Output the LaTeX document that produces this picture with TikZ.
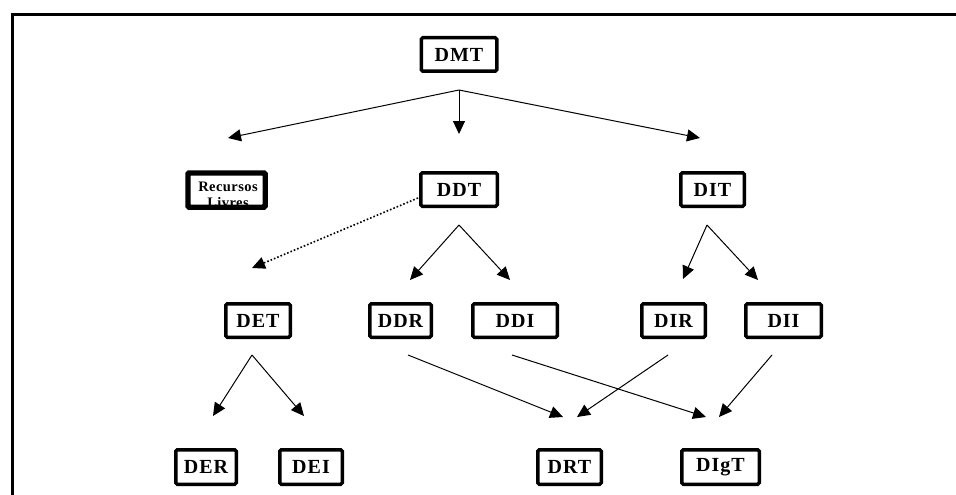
\documentclass[tikz,border=0pt]{standalone}
\usepackage{fontspec}
\setmainfont{Liberation Serif}
\usetikzlibrary{arrows.meta}
\tikzset{
  box/.style={draw, line width=3.5pt, rounded corners=1.5pt, inner sep=0pt,
    minimum height=33.5pt, font=\fontsize{20}{22}\selectfont\bfseries\addfontfeature{LetterSpace=5}},
  conn/.style={line width=1pt, -{Triangle[length=13pt,width=12pt]}},
  dotconn/.style={line width=1.6pt, dotted, -{Triangle[length=13pt,width=12pt]}},
  frame/.style={line width=3pt},
  smalltext/.style={font=\fontsize{14.5}{16}\selectfont\bfseries\addfontfeature{LetterSpace=3}, inner sep=0pt, anchor=base}
}
\begin{document}
\begin{tikzpicture}[x=1pt,y=-1pt]
\useasboundingbox (0,0) rectangle (956,495);
% frame
\coordinate (f1) at (12,495);
\coordinate (f2) at (12,14.5);
\coordinate (f3) at (956,14.5);
\draw[frame] (f1) -- (f2) -- (f3);

% nodes
\node[box, minimum width=75.5pt] (dmt) at (459,54.5) {DMT};
\node[box, minimum width=76.5pt] (ddt) at (459,189.5) {DDT};
\node[box, minimum width=63.5pt] (dit) at (712.5,189.5) {DIT};
\node[box, minimum width=64.5pt] (det) at (258,320.5) {DET};
\node[box, minimum width=61.5pt] (ddr) at (400.5,320.5) {DDR};
\node[box, minimum width=84.5pt] (ddi) at (515,320.5) {DDI};
\node[box, minimum width=63.5pt] (dir) at (673.5,320.5) {DIR};
\node[box, minimum width=75.5pt] (dii) at (783.5,320.5) {DII};
\node[box, minimum width=60.5pt, minimum height=34.5pt] (der) at (206,467) {DER};
\node[box, minimum width=62.5pt, minimum height=34.5pt] (dei) at (311,467) {DEI};
\node[box, minimum width=63.5pt, minimum height=34.5pt] (drt) at (569.5,467) {DRT};
\node[box, minimum width=77.5pt, minimum height=34.5pt] (digt) at (720.5,467) {DIgT};

% Recursos Livres (text clipped by its box)
\node[box, minimum width=75.5pt, minimum height=32.5pt] (rl) at (226.5,190) {};
\begin{scope}
  \clip (rl.south west) rectangle (rl.north east);
  \node[smalltext] (rl1) at (228,191) {Recursos};
  \node[smalltext] (rl2) at (228,207) {Livres};
\end{scope}
\draw[line width=3.5pt, rounded corners=1.5pt] (rl.south west) rectangle (rl.north east);

% connector points
\coordinate (a0) at (459,90);
\coordinate (a1) at (228,138);
\coordinate (a2) at (459,134);
\coordinate (a3) at (700,138);
\coordinate (b0) at (459,225);
\coordinate (b1) at (410,280);
\coordinate (b2) at (510,280);
\coordinate (c0) at (707,225);
\coordinate (c1) at (683,279);
\coordinate (c2) at (758,280);
\coordinate (d0) at (418,198);
\coordinate (d1) at (252,268);
\coordinate (e0) at (252,355);
\coordinate (e1) at (213,416);
\coordinate (e2) at (304,416);
\coordinate (g0) at (408,355);
\coordinate (g1) at (563,417);
\coordinate (h0) at (512,355);
\coordinate (h1) at (706,417);
\coordinate (i0) at (668,355);
\coordinate (i1) at (577,417);
\coordinate (j0) at (772,355);
\coordinate (j1) at (719,417);

\draw[conn] (a0) -- (a1);
\draw[conn] (a0) -- (a2);
\draw[conn] (a0) -- (a3);
\draw[conn] (b0) -- (b1);
\draw[conn] (b0) -- (b2);
\draw[conn] (c0) -- (c1);
\draw[conn] (c0) -- (c2);
\draw[dotconn] (d0) -- (d1);
\draw[conn] (e0) -- (e1);
\draw[conn] (e0) -- (e2);
\draw[conn] (g0) -- (g1);
\draw[conn] (h0) -- (h1);
\draw[conn] (i0) -- (i1);
\draw[conn] (j0) -- (j1);
\end{tikzpicture}
\end{document}
